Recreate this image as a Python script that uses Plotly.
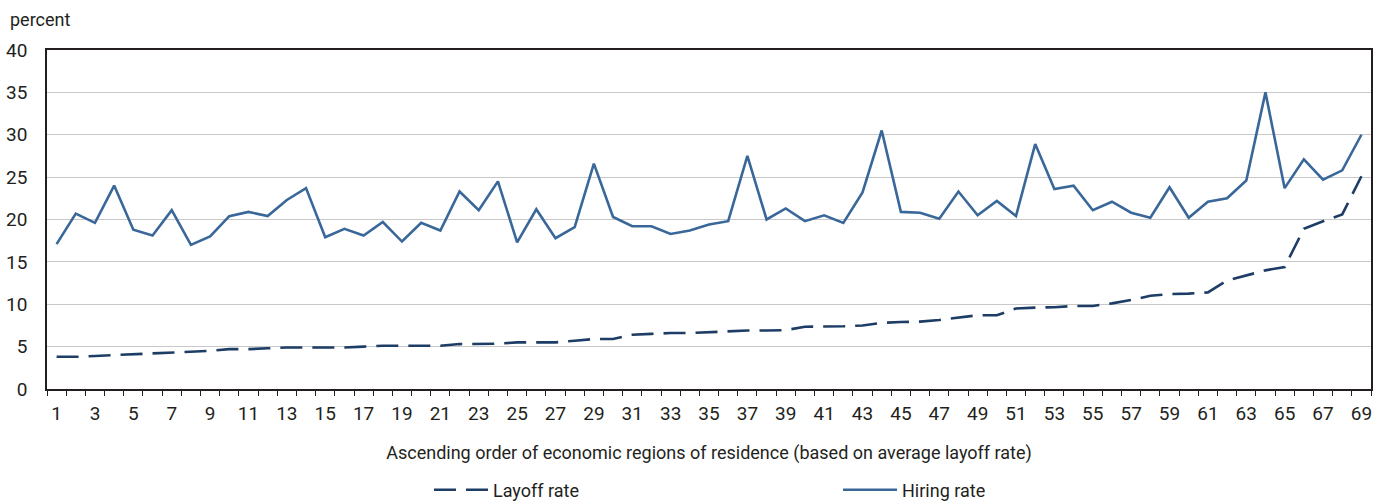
import plotly.graph_objects as go

regions = list(range(1, 70))

layoff_rate = [
    3.8, 3.8, 3.9, 4.0, 4.1, 4.25, 4.3, 4.4, 4.5, 4.7,
    4.7, 4.8, 4.9, 4.9, 4.9, 4.9, 5.0, 5.1, 5.1, 5.1,
    5.1, 5.3, 5.3, 5.35, 5.5, 5.5, 5.5, 5.7, 5.9, 5.9,
    6.4, 6.5, 6.6, 6.6, 6.7, 6.85, 6.9, 6.9, 6.95, 7.35,
    7.35, 7.4, 7.5, 7.8, 7.9, 7.95, 8.15, 8.4, 8.7, 8.7,
    9.5, 9.6, 9.65, 9.8, 9.8, 10.1, 10.5, 11.0, 11.2, 11.25,
    11.4, 12.8, 13.4, 14.0, 14.4, 18.9, 19.8, 20.6, 25.1,
]

hiring_rate = [
    17.1, 20.7, 19.6, 24.0, 18.8, 18.1, 21.1, 17.0, 18.0, 20.4,
    20.9, 20.4, 22.3, 23.7, 17.9, 18.9, 18.1, 19.7, 17.4, 19.6,
    18.7, 23.3, 21.1, 24.5, 17.3, 21.2, 17.8, 19.1, 26.6, 20.3,
    19.2, 19.2, 18.3, 18.7, 19.4, 19.8, 27.5, 20.0, 21.3, 19.8,
    20.5, 19.6, 23.2, 30.5, 20.9, 20.8, 20.1, 23.3, 20.5, 22.2,
    20.4, 28.9, 23.6, 24.0, 21.1, 22.1, 20.8, 20.2, 23.8, 20.2,
    22.1, 22.5, 24.6, 35.0, 23.7, 27.1, 24.7, 25.8, 30.0,
]

x_ticks = regions[::2]
y_ticks = [0, 5, 10, 15, 20, 25, 30, 35, 40]

FONT = "Roboto, 'Liberation Sans', Arial, sans-serif"
TXT = "#231f20"

fig = go.Figure()

# ── Series ────────────────────────────────────────────────────────────────
fig.add_trace(go.Scatter(
    x=regions, y=layoff_rate, name="Layoff rate", mode="lines",
    line=dict(color="#1d3d66", width=2.6, dash="22px,10px"),
))
fig.add_trace(go.Scatter(
    x=regions, y=hiring_rate, name="Hiring rate", mode="lines",
    line=dict(color="#3a6799", width=2.6),
))

fig.update_layout(
    width=1385, height=504,
    paper_bgcolor="white", plot_bgcolor="white",
    font=dict(family=FONT, color=TXT, size=18),
    margin=dict(l=47, r=14, t=50, b=115),
    showlegend=True,
    legend=dict(
        orientation="h",
        xref="container", yref="container",
        x=429 / 1385, y=14 / 504, xanchor="left", yanchor="middle",
        entrywidth=340, entrywidthmode="pixels",
        itemwidth=54,
        font=dict(family=FONT, size=18, color=TXT),
        bgcolor="rgba(0,0,0,0)",
    ),
    xaxis=dict(
        range=[0.5, 69.5], automargin=False,
        tickmode="array", tickvals=x_ticks,
        ticks="", showgrid=False, zeroline=False,
        showline=True, linecolor="#231f20", linewidth=1.5, mirror=True,
        tickfont=dict(size=19), ticklabelstandoff=6,
        minor=dict(tick0=0.5, dtick=1, ticks="outside", ticklen=5,
                   tickcolor="#231f20", tickwidth=1.3, showgrid=False),
        title=dict(
            text="Ascending order of economic regions of residence (based on average layoff rate)",
            font=dict(size=18), standoff=23,
        ),
    ),
    yaxis=dict(
        range=[0, 40], automargin=False,
        tickmode="array", tickvals=y_ticks,
        ticks="", showgrid=True, gridcolor="#c8c8c8", gridwidth=1.4,
        zeroline=False,
        showline=True, linecolor="#231f20", linewidth=1.5, mirror=True,
        tickfont=dict(size=19), ticklabelstandoff=14,
    ),
    annotations=[dict(
        text="percent", xref="paper", yref="paper", x=-0.0295, y=1.091,
        xanchor="left", yanchor="middle", showarrow=False,
        font=dict(family=FONT, size=18, color=TXT),
    )],
)

fig.write_html(
    "out.html",
    config={"displayModeBar": False},
    post_script="document.body.style.margin='0';document.body.style.overflow='hidden';",
)
